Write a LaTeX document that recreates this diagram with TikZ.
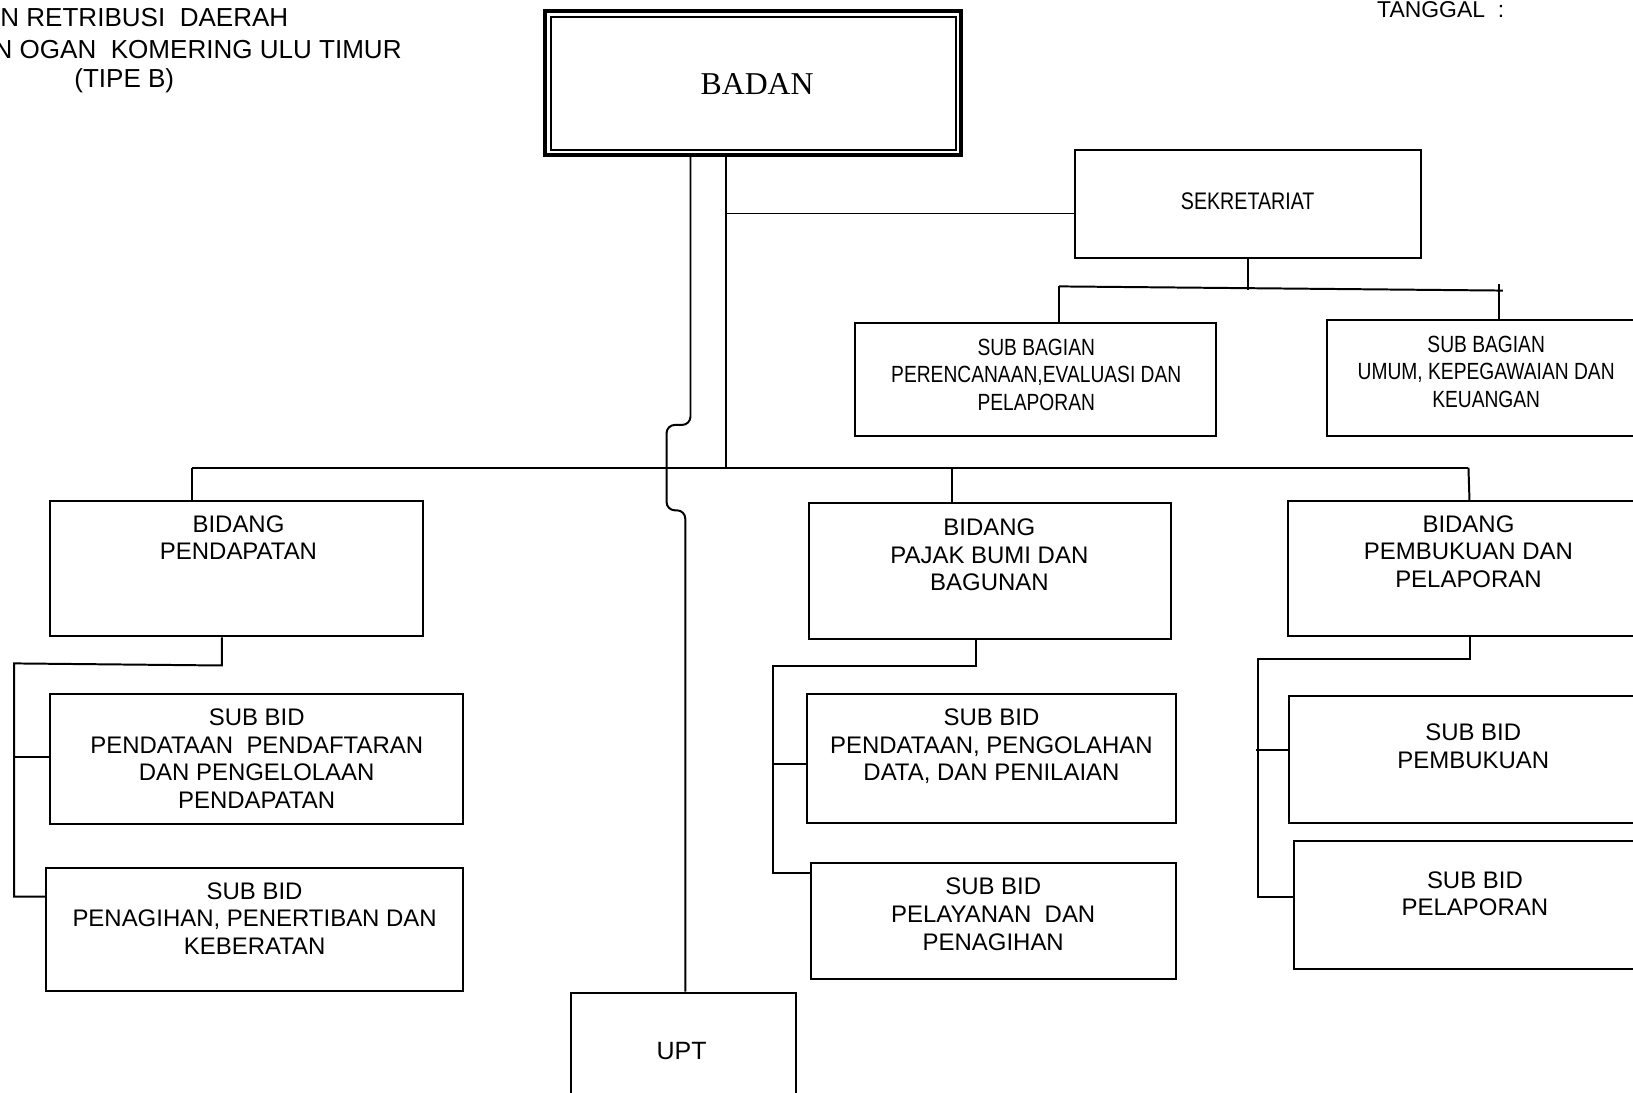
\documentclass[tikz,border=0pt]{standalone}
\usepackage{fontspec}
\setmainfont{Liberation Sans}
\newfontfamily\badanserif{Liberation Serif}
\newfontfamily\narrowsans[FakeStretch=0.82]{Liberation Sans}
\usetikzlibrary{fit}

\tikzset{
  box/.style={draw, line width=0.95pt, rectangle, inner sep=0pt},
  link/.style={line width=0.95pt},
  lbl/.style={font=\fontsize{11.5pt}{13.25pt}\selectfont, align=center, inner sep=0pt, anchor=north},
  nlbl/.style={font=\narrowsans\fontsize{11.25pt}{13.25pt}\selectfont, align=center, inner sep=0pt, anchor=north},
  ttl/.style={font=\fontsize{12.5pt}{14.5pt}\selectfont, inner sep=0pt},
}

\begin{document}
\begin{tikzpicture}[x=0.5pt, y=-0.5pt]
\useasboundingbox (0,0) rectangle (1568,1049);
\clip (0,0) rectangle (1568,1049);
\fill[white] (0,0) rectangle (1568,1049);

% heading
\node[ttl, anchor=base west] (t1) at (0,25.6) {N RETRIBUSI\ \ DAERAH};
\node[ttl, anchor=base east] (t2) at (386,56) {N OGAN\ \ KOMERING ULU TIMUR};
\node[ttl, anchor=base west] (t3) at (71,83.8) {(TIPE B)};
\node[font=\fontsize{11pt}{13pt}\selectfont, inner sep=0pt, anchor=base west] (tgl) at (1322,17) {TANGGAL\ \ :};

% head of office
\node[draw, line width=1.5pt, rectangle, inner sep=0pt, fit={(523.3,10.6) (922.7,148.8)}] (badan) {};
\node[draw, line width=0.9pt, rectangle, inner sep=0pt, fit={(528.7,16) (918,144)}] (badanin) {};
\node[font=\badanserif\fontsize{15.25pt}{17pt}\selectfont, inner sep=0pt, anchor=base] (badant) at (727,91) {BADAN};

% secretariat
\node[box, fit={(1032,144) (1364,248)}] (sek) {};
\node[font=\narrowsans\fontsize{11.5pt}{13pt}\selectfont, inner sep=0pt, anchor=base] (sekt) at (1198,201.5) {SEKRETARIAT};
\node[box, fit={(821,310) (1168,419)}] (sbl) {};
\node[nlbl] (sblt) at (995,325) {SUB BAGIAN\\PERENCANAAN,EVALUASI DAN\\PELAPORAN};
\node[box, fit={(1274,307) (1600,419)}] (sbr) {};
\node[nlbl] (sbrt) at (1427,322) {SUB BAGIAN\\UMUM, KEPEGAWAIAN DAN\\KEUANGAN};

% divisions
\node[box, fit={(48,481) (406,611)}] (bpd) {};
\node[lbl] (bpdt) at (229,494.7) {BIDANG\\PENDAPATAN};
\node[box, fit={(777,483) (1124,614)}] (pbb) {};
\node[lbl] (pbbt) at (950,497.7) {BIDANG\\PAJAK BUMI DAN\\BAGUNAN};
\node[box, fit={(1237,481) (1600,611)}] (pmb) {};
\node[lbl] (pmbt) at (1410,494.7) {BIDANG\\PEMBUKUAN DAN\\PELAPORAN};

% sub-divisions
\node[box, fit={(48,666) (445,791)}] (sbpd1) {};
\node[lbl] (sbpd1t) at (246.5,680.4) {SUB BID\\PENDATAAN\ \ PENDAFTARAN\\DAN PENGELOLAAN\\PENDAPATAN};
\node[box, fit={(44,833) (445,952)}] (sbpd2) {};
\node[lbl] (sbpd2t) at (244.5,847) {SUB BID\\PENAGIHAN, PENERTIBAN DAN\\KEBERATAN};
\node[box, fit={(774.5,666) (1129,790.5)}] (sbpbb1) {};
\node[lbl] (sbpbb1t) at (952,680.4) {SUB BID\\PENDATAAN, PENGOLAHAN\\DATA, DAN PENILAIAN};
\node[box, fit={(778.7,828.3) (1129,940.3)}] (sbpbb2) {};
\node[lbl] (sbpbb2t) at (953.7,842.8) {SUB BID\\PELAYANAN\ \ DAN\\PENAGIHAN};
\node[box, fit={(1238,668.3) (1600,790.5)}] (sbpmb1) {};
\node[lbl] (sbpmb1t) at (1414.6,695) {SUB BID\\PEMBUKUAN};
\node[box, fit={(1242.5,807.5) (1600,930.7)}] (sbpmb2) {};
\node[lbl] (sbpmb2t) at (1416.2,836.5) {SUB BID\\PELAPORAN};

% technical unit
\node[box, fit={(548.3,953) (764,1100)}] (upt) {};
\node[font=\fontsize{12pt}{14pt}\selectfont, inner sep=0pt, anchor=base] (uptt) at (654.5,1017) {UPT};

% junction points
\coordinate (bj) at (697,449);
\coordinate (sj) at (697,205);
\coordinate (bL) at (184,449);
\coordinate (bM) at (914,449);
\coordinate (bR) at (1410,449);
\coordinate (u1) at (663,408);
\coordinate (u2) at (640,408);
\coordinate (u3) at (640,490);
\coordinate (u4) at (658,490);
\coordinate (sA) at (1198,278);
\coordinate (sL) at (1017,275);
\coordinate (sR) at (1443,279);
\coordinate (sT) at (1439,273);

% main line and secretariat branch
\draw[link] (bj |- badan.south) -- (bj);
\draw[link] (sj) -- (sj -| sek.west);
\draw[link] (bL) -- (bR);
\draw[link] (bL) -- (bL |- bpd.north);
\draw[link] (bM) -- (bM |- pbb.north);
\draw[link] (bR) -- (1411,481);

% line to UPT, bridging over the main line
\draw[link, rounded corners=4pt] (u1 |- badan.south) -- (u1) -- (u2) -- (u3) -- (u4) -- (u4 |- upt.north);

% secretariat sub-sections
\draw[link] (sek.south) -- (sA);
\draw[link] (sL) -- (sR);
\draw[link] (sL) -- (sL |- sbl.north);
\draw[link] (sT) -- (sT |- sbr.north);

% BIDANG PENDAPATAN tree
\coordinate (pdA) at (213,639);
\coordinate (pdL) at (13.5,637);
\coordinate (pdB1) at (13.5,726.5);
\coordinate (pdB2) at (13.5,861);
\draw[link] (pdA |- bpd.south) -- (pdA) -- (pdL) -- (pdB2) -- (pdB2 -| sbpd2.west);
\draw[link] (pdB1) -- (pdB1 -| sbpd1.west);

% BIDANG PBB tree
\coordinate (pbA) at (937,639.5);
\coordinate (pbL) at (742,639.5);
\coordinate (pbB1) at (742,734);
\coordinate (pbB2) at (742,838.5);
\draw[link] (pbA |- pbb.south) -- (pbA) -- (pbL) -- (pbB2) -- (pbB2 -| sbpbb2.west);
\draw[link] (pbB1) -- (pbB1 -| sbpbb1.west);

% BIDANG PEMBUKUAN tree
\coordinate (pmA) at (1411.4,633);
\coordinate (pmL) at (1208.2,633);
\coordinate (pmB1) at (1206,720);
\coordinate (pmB2) at (1208.2,861);
\draw[link] (pmA |- pmb.south) -- (pmA) -- (pmL) -- (pmB2) -- (pmB2 -| sbpmb2.west);
\draw[link] (pmB1) -- (pmB1 -| sbpmb1.west);
\end{tikzpicture}
\end{document}
